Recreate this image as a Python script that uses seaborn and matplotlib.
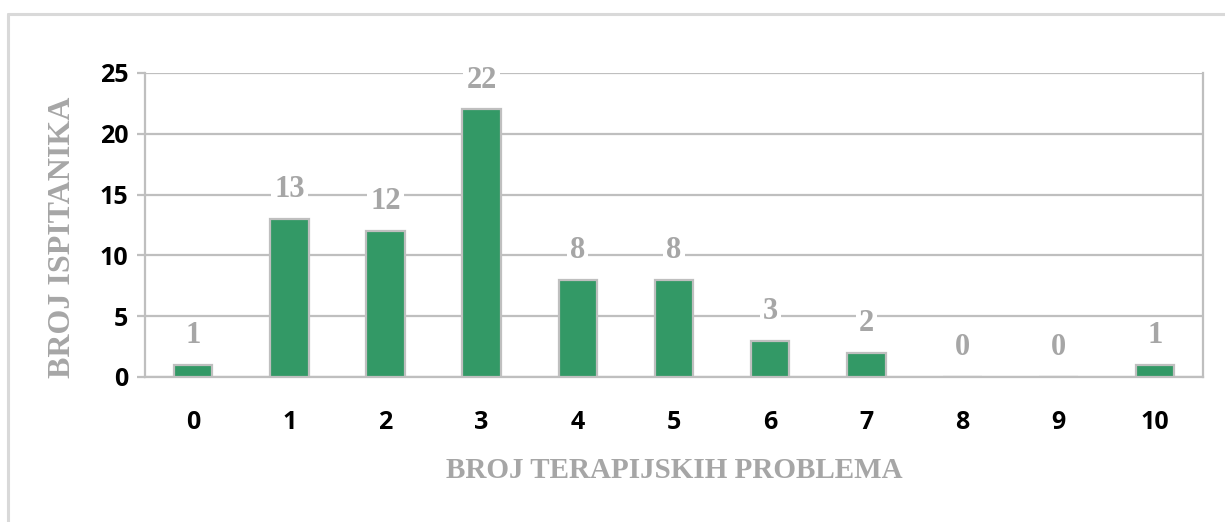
import matplotlib
matplotlib.use("Agg")
import matplotlib.pyplot as plt
from matplotlib.lines import Line2D
import seaborn as sns
import pandas as pd

# data
problems = ["0", "1", "2", "3", "4", "5", "6", "7", "8", "9", "10"]
counts = [1, 13, 12, 22, 8, 8, 3, 2, 0, 0, 1]
y_ticks = [0, 5, 10, 15, 20, 25]

x_title = "BROJ TERAPIJSKIH PROBLEMA"
y_title = "BROJ ISPITANIKA"

GRID = "#bfbfbf"
LABEL_GREY = "#a6a6a6"
BAR = "#339966"
SERIF = ["Liberation Serif", "DejaVu Serif"]

sns.set_theme(style="white")
plt.rcParams["font.family"] = ["Open Sans", "DejaVu Sans"]

df = pd.DataFrame({"problems": problems, "count": counts})

fig = plt.figure(figsize=(12.25, 5.22), dpi=100)
ax = fig.add_axes([145 / 1225, 1 - 377 / 522, (1203 - 145) / 1225, (377 - 73) / 522])

sns.barplot(data=df, x="problems", y="count", order=problems, color=BAR,
            saturation=1, width=0.4, edgecolor=GRID, linewidth=1.6, ax=ax, zorder=3)

ax.set_xlim(-0.5, len(problems) - 0.5)
ax.set_ylim(0, 25)
ax.set_yticks(y_ticks)
ax.yaxis.grid(True, color=GRID, linewidth=1.6, zorder=0)
ax.set_axisbelow(True)

for s in ["left", "bottom", "right"]:
    ax.spines[s].set_visible(True)
    ax.spines[s].set_color(GRID)
    ax.spines[s].set_linewidth(1.6)
ax.spines["top"].set_visible(False)

# category boundary ticks
ax.set_xticks([i - 0.5 for i in range(len(problems) + 1)], minor=True)
ax.tick_params(axis="x", which="minor", length=6, width=1.6, color=GRID, direction="out")
ax.tick_params(axis="x", which="major", length=0, pad=24, labelsize=18)
ax.tick_params(axis="y", which="major", length=6, width=1.6, color=GRID, direction="out",
               pad=6, labelsize=18, left=True)
for lab in ax.get_xticklabels() + ax.get_yticklabels():
    lab.set_fontweight("bold")
    lab.set_color("black")

ax.set_xlabel("")
ax.set_ylabel("")
fig.text(674 / 1225, 1 - 471 / 522, x_title, ha="center", va="center",
         family=SERIF, fontweight="bold", fontsize=21, color=LABEL_GREY)
fig.text(63 / 1225, 1 - 237 / 522, y_title, ha="center", va="center", rotation=90,
         family=SERIF, fontweight="bold", fontsize=23, color=LABEL_GREY)

# data labels
for i, v in enumerate(counts):
    ax.annotate(str(v), (i, v), xytext=(0, 21), textcoords="offset points",
                ha="center", va="center", family=SERIF, fontweight="bold",
                fontsize=22, color=LABEL_GREY, zorder=4,
                bbox=dict(boxstyle="square,pad=0.1", fc="white", ec="none"))

# outer chart frame (only top and left visible)
fig.add_artist(Line2D([8 / 1225, 1], [1 - 14 / 522, 1 - 14 / 522],
                      transform=fig.transFigure, color="#d9d9d9", linewidth=2.2))
fig.add_artist(Line2D([8 / 1225, 8 / 1225], [0, 1 - 14 / 522],
                      transform=fig.transFigure, color="#d9d9d9", linewidth=2.2))

fig.savefig("out.png", dpi=100)
